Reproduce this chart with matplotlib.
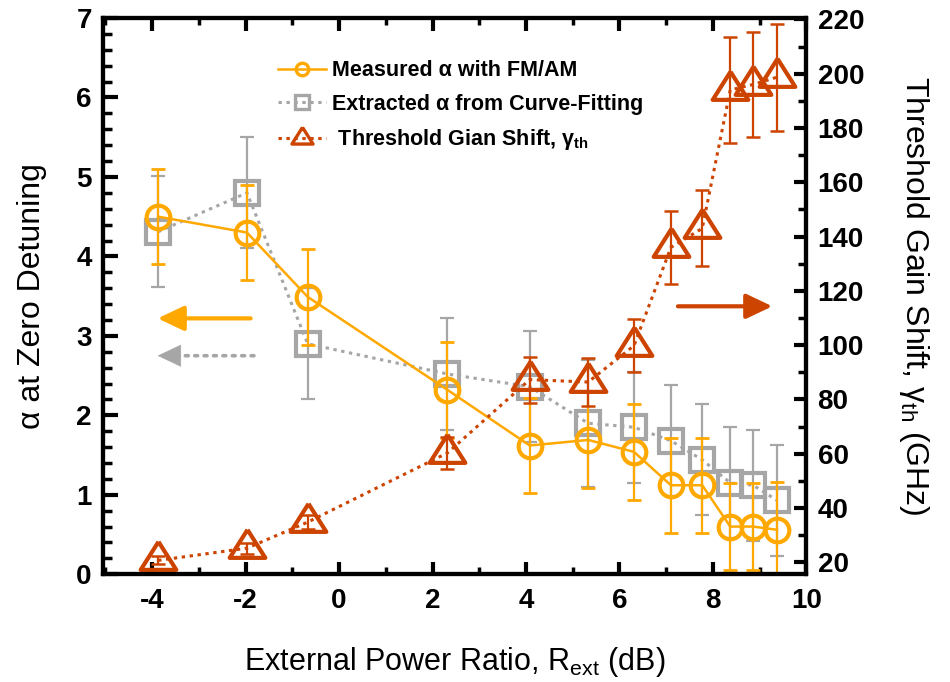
import numpy as np
import matplotlib
matplotlib.use('Agg')
import matplotlib.pyplot as plt
from matplotlib.ticker import MultipleLocator

plt.rcParams['font.family'] = ['Liberation Sans', 'DejaVu Sans']
plt.rcParams['mathtext.fontset'] = 'custom'
plt.rcParams['mathtext.rm'] = 'Liberation Sans'
plt.rcParams['mathtext.it'] = 'Liberation Sans:italic'
plt.rcParams['mathtext.bf'] = 'Liberation Sans:bold'
plt.rcParams['axes.unicode_minus'] = False

# ---- data ----
r_ext = np.array([-3.87, -1.97, -0.67, 2.32, 4.08, 5.33, 6.31, 7.10, 7.77, 8.37, 8.86, 9.37])

alpha_meas = np.array([4.50, 4.30, 3.49, 2.32, 1.62, 1.69, 1.54, 1.12, 1.12, 0.60, 0.60, 0.56])
alpha_meas_err = np.array([0.60, 0.60, 0.60, 0.60, 0.60, 0.60, 0.60, 0.60, 0.60, 0.55, 0.55, 0.60])

alpha_fit = np.array([4.31, 4.80, 2.90, 2.52, 2.36, 1.90, 1.85, 1.68, 1.44, 1.15, 1.12, 0.93])
alpha_fit_err = np.array([0.70, 0.70, 0.70, 0.70, 0.70, 0.80, 0.70, 0.70, 0.70, 0.70, 0.70, 0.70])

gamma_th = np.array([20.7, 25.2, 34.8, 60.3, 87.3, 86.4, 99.8, 136.0, 143.0, 194.0, 196.0, 198.7])
gamma_th_err = np.array([1.5, 2.0, 2.7, 6.0, 8.5, 8.7, 9.7, 13.3, 14.0, 19.5, 19.5, 19.7])

c_meas = '#FFA800'
c_fit = '#A6A6A6'
c_gam = '#CC4400'

# triangle marker centred on its centroid, a bit wider than tall
tri = [(0, 0.6), (-0.57, -0.3), (0.57, -0.3), (0, 0.6)]

fig = plt.figure(figsize=(9.5, 6.82), dpi=100)
ax = fig.add_axes([0.1084, 0.158, 0.7405, 0.8156])
ax2 = ax.twinx()

dot = (0, (1.1, 1.5))

# extracted alpha (grey squares)
ax.errorbar(r_ext, alpha_fit, yerr=alpha_fit_err, fmt='none', ecolor=c_fit,
            elinewidth=1.6, capsize=5, capthick=1.6)
l_fit, = ax.plot(r_ext, alpha_fit, color=c_fit, ls=dot, lw=2.2, marker='s',
                 ms=17.5, mfc='none', mec=c_fit, mew=3,
                 label='Extracted \u03b1 from Curve-Fitting')

# measured alpha (orange circles)
ax.errorbar(r_ext, alpha_meas, yerr=alpha_meas_err, fmt='none', ecolor=c_meas,
            elinewidth=1.6, capsize=5, capthick=2)
l_meas, = ax.plot(r_ext, alpha_meas, color=c_meas, ls='-', lw=1.8, marker='o',
                  ms=17, mfc='none', mec=c_meas, mew=3,
                  label='Measured \u03b1 with FM/AM')

# threshold gain shift (right axis)
ax2.errorbar(r_ext, gamma_th, yerr=gamma_th_err, fmt='none', ecolor=c_gam,
             elinewidth=1.6, capsize=5, capthick=1.8)
l_gam, = ax2.plot(r_ext, gamma_th, color=c_gam, ls=dot, lw=2.2, marker=tri,
                  ms=27, mfc='none', mec=c_gam, mew=3,
                  label=' Threshold Gian Shift, \u03b3$_{\\mathbf{th}}$')

# direction arrows
head = '-|>,head_length=0.8,head_width=0.38'
ax.annotate('', xy=(-3.88, 3.22), xytext=(-1.89, 3.22),
            arrowprops=dict(arrowstyle=head, color=c_meas, lw=3,
                            mutation_scale=20, shrinkA=0, shrinkB=0))
# grey one: dotted shaft + solid head
ax.annotate('', xy=(-3.5, 2.75), xytext=(-1.82, 2.75),
            arrowprops=dict(arrowstyle='-', color=c_fit, lw=2.6, ls=(0, (0.8, 1.8)),
                            capstyle='round', shrinkA=0, shrinkB=0))
ax.annotate('', xy=(-3.88, 2.75), xytext=(-3.45, 2.75),
            arrowprops=dict(arrowstyle=head, color=c_fit, lw=0.5,
                            mutation_scale=20, shrinkA=0, shrinkB=0))
ax2.annotate('', xy=(9.27, 114.3), xytext=(7.25, 114.3),
             arrowprops=dict(arrowstyle=head, color=c_gam, lw=3,
                             mutation_scale=20, shrinkA=0, shrinkB=0))

# axes limits / ticks
ax.set_xlim(-5.05, 10)
ax.set_ylim(0, 7)
ax2.set_ylim(15.6, 220.5)

ax.xaxis.set_major_locator(MultipleLocator(2))
ax.xaxis.set_minor_locator(MultipleLocator(1))
ax.yaxis.set_major_locator(MultipleLocator(1))
ax.yaxis.set_minor_locator(MultipleLocator(0.2))
ax2.yaxis.set_major_locator(MultipleLocator(20))
ax2.yaxis.set_minor_locator(MultipleLocator(10))

ax.tick_params(axis='x', which='both', direction='in', top=True, width=3,
               labelsize=20, pad=10)
ax.tick_params(axis='x', which='major', length=9)
ax.tick_params(axis='x', which='minor', length=5, width=2.5)
ax.tick_params(axis='y', which='both', direction='in', right=False, width=3,
               labelsize=20, pad=8)
ax.tick_params(axis='y', which='major', length=11)
ax.tick_params(axis='y', which='minor', length=6.5, width=2.5)
ax2.tick_params(axis='y', which='both', direction='in', width=3, labelsize=20, pad=8)
ax2.tick_params(axis='y', which='major', length=9)
ax2.tick_params(axis='y', which='minor', length=6, width=2.5)

for a in (ax, ax2):
    for s in a.spines.values():
        s.set_linewidth(3)
    for lab in a.get_xticklabels() + a.get_yticklabels():
        lab.set_fontweight('bold')

ax.set_xlabel('External Power Ratio, R$_{\\mathrm{ext}}$ (dB)', fontsize=22, labelpad=22)
ax.set_ylabel('\u03b1 at Zero Detuning', fontsize=23, labelpad=21)
ax2.set_ylabel('Threshold Gain Shift, \u03b3$_{\\mathrm{th}}$ (GHz)', fontsize=23,
               labelpad=24, rotation=270, va='bottom')

leg = ax2.legend(handles=[l_meas, l_fit, l_gam], loc='upper left',
                 bbox_to_anchor=(0.249, 0.924), frameon=False, borderpad=0,
                 borderaxespad=0, handlelength=2.2, handletextpad=0.3,
                 labelspacing=0.58, prop={'weight': 'bold', 'size': 15.5})
for h, ms in zip(leg.legend_handles, [9, 10, 16]):
    h.set_markersize(ms)
    h.set_markeredgewidth(2.4)

fig.savefig('out.png', dpi=100)
